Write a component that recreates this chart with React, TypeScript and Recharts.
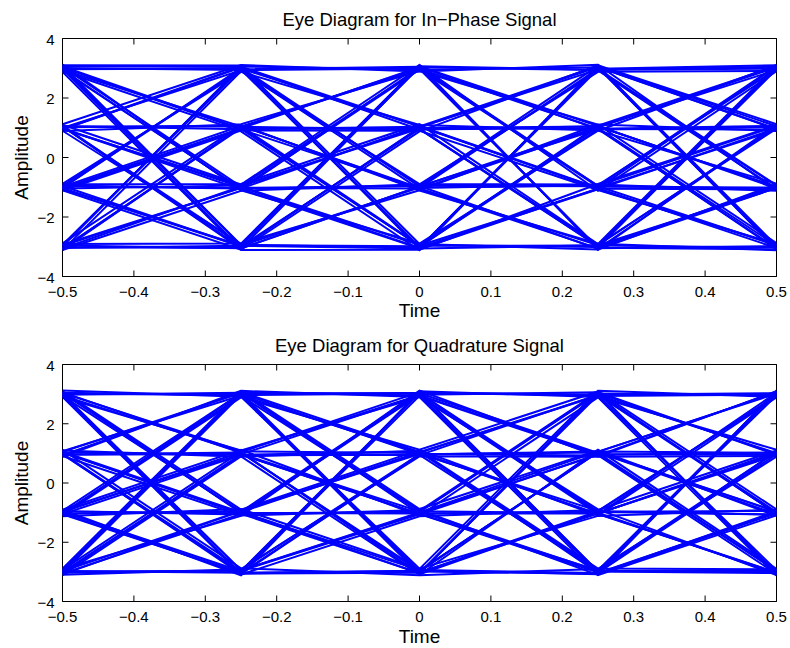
import { Line, LineChart, ReferenceArea, XAxis, YAxis } from "recharts";

// Two stacked eye diagrams (I and Q rails of a 16-QAM signal). Each trace
// spans four symbol periods, sampled at the five instants in SAMPLE_TIMES.

const SAMPLE_TIMES = [-0.5, -0.25, 0, 0.25, 0.5];
const TIME_TICKS = [-0.5, -0.4, -0.3, -0.2, -0.1, 0, 0.1, 0.2, 0.3, 0.4, 0.5];
const AMP_TICKS = [-4, -2, 0, 2, 4];

const IN_PHASE_TRACES = [
  [-3.04, -2.97, -3.06, -2.95, -1.03],
  [-2.93, -1.02, -0.96, -3.07, 1.04],
  [-3.08, 1.03, 0.95, -2.98, 2.96],
  [-2.99, 3.06, 2.97, -3.03, -3.09],
  [-1.05, -2.96, -1.01, -0.94, -1.06],
  [-0.97, -1.04, 1.06, -1.02, 0.93],
  [-1.02, 0.98, 3.04, -0.96, 3.08],
  [-0.95, 2.95, -3.02, -1.07, -2.94],
  [1.07, -3.03, 0.99, 1.04, -0.98],
  [0.96, -0.95, 2.98, 0.97, 1.07],
  [1.02, 1.05, -2.95, 1.01, 3.03],
  [0.94, 3.02, -0.97, 0.95, -3.05],
  [3.09, -2.94, 3.03, 2.94, -0.95],
  [2.95, -1.06, -3.05, 3.05, 0.96],
  [3.02, 0.94, -1.03, 2.98, 3.1],
  [2.97, 2.99, 1.04, 3.07, -2.97],
  [-2.96, -3.05, -0.98, 1.03, 2.94],
  [-1.03, -2.99, 0.95, 0.98, -3.08],
  [1.05, -3.07, 3.06, 1.06, -1.04],
  [3.04, -2.95, -2.98, 0.94, 1.02],
  [-3.06, -0.97, 1.02, 2.96, 3.05],
  [-0.94, -1.03, 2.95, 3.03, -3.02],
  [0.98, -0.99, -3.04, 2.97, -0.93],
  [2.93, -1.05, -0.95, 3.08, 1.05],
  [-3.1, 1.02, 3.01, -3.04, 3.02],
  [-1.06, 0.96, -2.97, -2.96, -3.03],
  [1.03, 1.07, -1.05, -3.06, -1.02],
  [3.06, 0.97, 0.96, -2.93, 0.97],
  [-2.95, 3.03, -3.08, -1.04, 3.06],
  [-1.01, 2.96, -0.94, -0.97, -2.95],
  [0.95, 3.05, 1.05, -1.05, -1.07],
  [3.01, 2.94, 2.99, -0.95, 1.06],
  [-3.02, -3.04, 1.01, 3.04, 0.95],
  [-0.96, -2.98, 3.07, 2.95, 2.99],
  [1.04, -2.93, -3.03, 3.02, -3.07],
  [2.98, -3.06, -0.97, 2.93, -1.05],
  [-1.04, -0.94, 0.97, -2.97, 3.04],
  [0.97, -1.07, 3.02, -3.05, -2.98],
  [3.05, -0.98, -2.94, -3.01, -0.96],
  [-2.97, -1.02, -1.04, -2.95, 1.03],
  [1.06, 0.95, 1.03, -1.03, -3.04],
  [2.94, 1.04, 2.96, -0.98, -1.01],
  [-3.05, 0.99, -2.96, -1.06, 0.98],
  [-0.98, 1.06, -1.02, -0.93, 2.97],
  [3.07, 3.04, 0.94, 1.05, -0.99],
  [-2.94, 2.97, 3.05, 0.96, 0.94],
  [-1.02, 3.01, -3.01, 1.07, 3.07],
  [0.99, 2.93, -1.06, 0.99, -2.96],
  [1.1, -0.91, 3.11, -1.12, 2.9],
  [0.89, 1.12, 2.91, 1.1, -2.88],
  [1.12, 3.11, 2.89, 3.12, -1.1],
  [0.9, -2.9, 3.1, -3.11, 1.11],
  [3.12, -1.1, -2.89, 0.9, 3.11],
  [2.9, 0.88, -3.12, 3.1, -3.1],
  [3.1, 3.09, -2.91, -3.09, -0.9],
  [2.88, -3.11, -3.1, -0.89, 1.09],
  [-3.11, -1.12, -0.9, 2.88, 2.91],
  [-2.89, 1.09, -1.11, -2.9, -3.12],
  [-3.12, 2.9, -0.89, -0.91, -1.12],
  [-2.91, -2.89, -1.1, 1.11, 0.89],
  [-0.9, -0.89, 1.12, -2.91, 3.1],
  [-1.11, 0.91, 0.9, -1.09, -2.91],
  [-0.89, 2.88, 1.09, 0.91, -0.88],
  [-1.1, -3.1, 0.88, 3.1, 1.12],
];

const QUADRATURE_TRACES = [
  [-2.97, -3.03, -2.96, 1.04, -0.97],
  [-1.04, -0.96, -3.05, 2.97, -1.03],
  [0.96, 1.03, -2.99, -3.06, -0.95],
  [3.05, 2.96, -3.08, -0.98, -1.06],
  [-3.06, -1.05, -0.97, 3.03, 0.98],
  [-0.95, 0.97, -1.04, -2.95, 1.05],
  [1.05, 3.04, -0.95, -1.02, 0.94],
  [2.97, -2.95, -1.02, 0.95, 1.03],
  [-3.01, 0.95, 1.06, -3.04, 3.06],
  [-1.07, 3.02, 0.98, -0.94, 2.95],
  [0.98, -3.07, 0.96, 1.06, 3.02],
  [3.03, -0.98, 1.03, 2.94, 2.98],
  [-2.95, 3.06, 2.95, -1.05, -3.03],
  [-0.97, -2.98, 3.03, 1.02, -2.96],
  [1.02, -1.03, 2.98, 3.06, -3.09],
  [2.95, 1.05, 3.07, -2.98, -2.99],
  [-3.04, 2.98, -3.02, -1.03, 1.04],
  [-2.99, -2.96, -1.06, 0.97, 0.96],
  [-3.08, -0.95, 1.04, 2.96, 1.01],
  [-2.93, 1.06, 2.97, -3.03, 0.97],
  [-1.03, -3.05, -2.97, 1.05, 3.04],
  [-0.96, -1.02, -0.98, 3.02, 2.97],
  [-1.05, 0.94, 0.95, -2.96, 3.08],
  [-0.94, 3.03, 3.04, -0.96, 2.93],
  [1.04, -1.04, -3.04, 3.05, -3.05],
  [0.95, 0.98, -0.96, -2.97, -2.94],
  [1.07, 2.95, 1.02, -1.04, -3.02],
  [0.97, -3.02, 2.94, 0.94, -3.07],
  [3.06, 1.02, -2.95, -3.08, -1.02],
  [2.98, 3.05, -1.03, -0.97, -0.94],
  [3.02, -2.94, 0.97, 1.03, -1.05],
  [2.94, -0.97, 3.05, 2.99, -0.98],
  [-0.98, 1.04, -3.07, 3.04, -1.04],
  [1.03, 0.96, -1.05, -3.02, 1.06],
  [3.04, 1.07, 1.01, -1.06, 3.05],
  [-3.05, 0.97, 2.96, 0.98, -2.97],
  [-1.02, 2.94, -0.94, 3.07, 0.95],
  [0.94, 3.07, 1.05, -2.94, 2.96],
  [3.01, 2.97, 3.02, -1.01, -3.06],
  [-2.96, 3.04, -2.98, 1.04, -0.96],
  [-1.06, -3.04, 0.94, 2.98, 3.03],
  [0.99, -2.97, 3.06, -2.99, -3.04],
  [2.96, -3.06, -3.03, -0.95, -1.07],
  [-3.03, -2.95, -0.99, 1.06, 1.02],
  [-0.95, -1.06, 3.04, 2.95, -2.95],
  [1.06, -0.99, -2.94, -3.04, -0.99],
  [3.07, -1.01, -1.03, -1.03, 0.99],
  [-2.98, -0.94, 0.98, 0.93, 3.09],
  [3.1, -0.9, 1.11, -1.1, 2.89],
  [-2.9, -1.11, 3.12, 0.9, 3.1],
  [-1.12, -0.88, -2.9, 3.11, 2.91],
  [0.91, -1.1, -0.91, -3.1, 3.12],
  [2.89, 1.1, 2.9, -0.89, -3.11],
  [-3.11, 0.9, -3.1, 1.12, -2.9],
  [-0.9, 1.12, -1.1, 2.89, -3.12],
  [1.1, 0.89, 1.09, -2.89, -2.91],
  [3.12, 2.91, -2.89, -1.11, -0.9],
  [-2.89, 3.1, -0.88, 1.1, -1.11],
  [-1.09, 2.89, 1.12, 3.09, -0.89],
  [0.88, 3.11, 2.9, -3.11, -1.09],
  [2.91, -3.09, -1.12, -0.91, 1.1],
  [-3.1, -2.91, 0.9, 0.89, 0.91],
  [-0.91, -3.12, 3.1, 2.9, 1.12],
  [1.12, -2.88, -3.11, -2.9, 0.89],
];

const FONT = "'Liberation Sans', Arial, Helvetica, sans-serif";
const TRACE_COLOR = "#0000ff";
const TICK_LEN = 6;

// plot-area edges inside each 790x324 panel
const PLOT_LEFT = 62.5;
const PLOT_RIGHT = 776.5;
const PANEL_H = 324;

const fmt = (v: number) => (v < 0 ? "\u2212" + String(-v) : String(v));

type Frame = { top: number; bottom: number };

// Tick marks point inward on all four sides, MATLAB style. The along-axis
// position comes from recharts; the edges come from the panel frame.
function timeTick(frame: Frame) {
  return ({ x, payload }: any) => (
    <g>
      <line x1={x} x2={x} y1={frame.bottom} y2={frame.bottom - TICK_LEN} stroke="#000" />
      <line x1={x} x2={x} y1={frame.top} y2={frame.top + TICK_LEN} stroke="#000" />
      <text
        x={x}
        y={frame.bottom + 20}
        textAnchor="middle"
        fontSize={15}
        fontFamily={FONT}
        fill="#000"
      >
        {fmt(payload.value)}
      </text>
    </g>
  );
}

function ampTick({ y, payload }: any) {
  return (
    <g>
      <line x1={PLOT_LEFT} x2={PLOT_LEFT + TICK_LEN} y1={y} y2={y} stroke="#000" />
      <line x1={PLOT_RIGHT} x2={PLOT_RIGHT - TICK_LEN} y1={y} y2={y} stroke="#000" />
      <text
        x={PLOT_LEFT - 8}
        y={y + 6}
        textAnchor="end"
        fontSize={15}
        fontFamily={FONT}
        fill="#000"
      >
        {fmt(payload.value)}
      </text>
    </g>
  );
}

function EyePanel({ traces, top, bottom }: { traces: number[][]; top: number; bottom: number }) {
  const frame = { top, bottom: PANEL_H - bottom };
  return (
    <LineChart
      width={790}
      height={PANEL_H}
      margin={{ top, right: 790 - PLOT_RIGHT, bottom: 0, left: 0 }}
    >
      <XAxis
        type="number"
        dataKey="t"
        domain={[-0.5, 0.5]}
        ticks={TIME_TICKS}
        interval={0}
        height={bottom}
        tickLine={false}
        tick={timeTick(frame)}
        axisLine={false}
        allowDataOverflow
      />
      <YAxis
        type="number"
        domain={[-4, 4]}
        ticks={AMP_TICKS}
        interval={0}
        width={PLOT_LEFT}
        tickLine={false}
        tick={ampTick}
        axisLine={false}
        allowDataOverflow
      />
      {traces.map((trace, i) => (
        <Line
          key={i}
          data={SAMPLE_TIMES.map((t, k) => ({ t, v: trace[k] }))}
          dataKey="v"
          type="linear"
          stroke={TRACE_COLOR}
          strokeWidth={2}
          dot={false}
          activeDot={false}
          isAnimationActive={false}
        />
      ))}
      <ReferenceArea
        x1={-0.5}
        x2={0.5}
        y1={-4}
        y2={4}
        fill="none"
        fillOpacity={0}
        stroke="#000"
        strokeWidth={1}
        ifOverflow="visible"
      />
    </LineChart>
  );
}

export default function App() {
  return (
    <div
      style={{ position: "absolute", left: 0, top: 0, width: 790, height: 648, background: "#fff" }}
    >
      <div style={{ position: "absolute", left: 0, top: 0 }}>
        <EyePanel traces={IN_PHASE_TRACES} top={38.5} bottom={47.5} />
      </div>
      <div style={{ position: "absolute", left: 0, top: PANEL_H }}>
        <EyePanel traces={QUADRATURE_TRACES} top={40.5} bottom={46.5} />
      </div>
      <svg
        width={790}
        height={648}
        style={{ position: "absolute", left: 0, top: 0, pointerEvents: "none" }}
        fontFamily={FONT}
        fill="#000"
      >
        <text x={419.5} y={25.5} textAnchor="middle" fontSize={18.5}>
          Eye Diagram for In{"\u2212"}Phase Signal
        </text>
        <text x={419.5} y={317} textAnchor="middle" fontSize={19}>
          Time
        </text>
        <text transform="translate(28,157.5) rotate(-90)" textAnchor="middle" fontSize={19}>
          Amplitude
        </text>
        <text x={419.5} y={351.5} textAnchor="middle" fontSize={18.5}>
          Eye Diagram for Quadrature Signal
        </text>
        <text x={419.5} y={642.5} textAnchor="middle" fontSize={19}>
          Time
        </text>
        <text transform="translate(28,483) rotate(-90)" textAnchor="middle" fontSize={19}>
          Amplitude
        </text>
      </svg>
    </div>
  );
}
